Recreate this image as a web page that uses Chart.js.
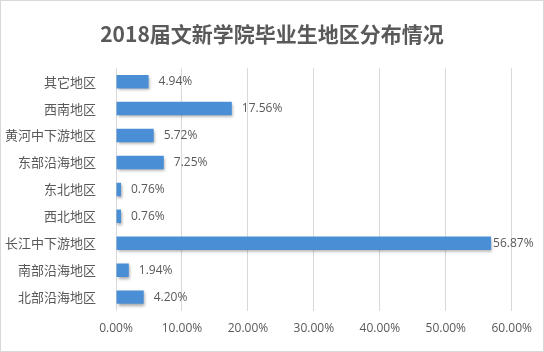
<!DOCTYPE html>
<html>
<head>
<meta charset="utf-8">
<script src="https://cdn.jsdelivr.net/npm/chart.js@4"></script>
<style>
  html, body { margin: 0; padding: 0; background: #fff; }
  #wrap { width: 542px; height: 350px; border: 1px solid #d9d9d9; }
</style>
</head>
<body>
<div id="wrap"><canvas id="myChart" width="542" height="350"></canvas></div>
<script>
var regions = ["其它地区", "西南地区", "黄河中下游地区", "东部沿海地区", "东北地区", "西北地区", "长江中下游地区", "南部沿海地区", "北部沿海地区"];
var shares = [4.94, 17.56, 5.72, 7.25, 0.76, 0.76, 56.87, 1.94, 4.20];
var xTicks = [0, 10, 20, 30, 40, 50, 60];

var txt = '#595959';
var cjk = '"Noto Sans CJK SC", "Noto Sans", sans-serif';

// value labels right of each bar, plus a soft shadow under the bars
var barExtras = {
    id: 'barExtras',
    beforeDatasetDraw: function (chart) {
        var c = chart.ctx;
        c.save();
        c.shadowColor = 'rgba(0,0,0,0.35)';
        c.shadowBlur = 3;
        c.shadowOffsetX = 1;
        c.shadowOffsetY = 2;
    },
    afterDatasetDraw: function (chart) {
        chart.ctx.restore();
    },
    afterDatasetsDraw: function (chart) {
        var c = chart.ctx;
        var meta = chart.getDatasetMeta(0);
        c.save();
        c.font = '12px "Open Sans", "Liberation Sans", sans-serif';
        c.fillStyle = txt;
        c.textBaseline = 'middle';
        meta.data.forEach(function (bar, i) {
            var gap = shares[i] > 50 ? 2 : 10;
            c.fillText(shares[i].toFixed(2) + '%', bar.x + gap, bar.y);
        });
        c.restore();
    }
};

var ctx = document.getElementById('myChart').getContext('2d');

var chart = new Chart(ctx, {
    type: 'bar',
    data: {
        labels: regions,
        datasets: [{
            data: shares,
            backgroundColor: function (context) {
                var el = context.element;
                if (!el || el.y === undefined) return '#4a8fd6';
                var h = el.height || 13;
                var g = context.chart.ctx.createLinearGradient(0, el.y - h / 2, 0, el.y + h / 2);
                g.addColorStop(0, '#6aa7e3');
                g.addColorStop(0.5, '#4a8fd6');
                g.addColorStop(1, '#3a7cc2');
                return g;
            },
            borderWidth: 0,
            barPercentage: 0.5,
            categoryPercentage: 1
        }]
    },
    options: {
        indexAxis: 'y',
        responsive: false,
        animation: false,
        layout: { padding: { left: 0, right: 0, top: 6, bottom: 4 } },
        plugins: {
            legend: { display: false },
            tooltip: { enabled: false },
            title: {
                display: true,
                text: '2018届文新学院毕业生地区分布情况',
                color: txt,
                font: { family: cjk, size: 21, weight: 'bold' },
                padding: { top: 14, bottom: 22 }
            }
        },
        scales: {
            x: {
                min: 0,
                max: 60,
                afterBuildTicks: function (axis) {
                    axis.ticks = xTicks.map(function (v) { return { value: v }; });
                },
                grid: { color: '#d9d9d9', drawTicks: false },
                border: { display: false },
                ticks: {
                    color: txt,
                    padding: 11,
                    font: { family: '"Open Sans", "Liberation Sans", sans-serif', size: 12 },
                    callback: function (v) { return v.toFixed(2) + '%'; }
                }
            },
            y: {
                afterFit: function (axis) { axis.width = 115; },
                grid: { display: false },
                border: { display: false },
                ticks: {
                    color: txt,
                    padding: 12,
                    font: { family: cjk, size: 13 }
                }
            }
        }
    },
    plugins: [barExtras]
});
</script>
</body>
</html>
